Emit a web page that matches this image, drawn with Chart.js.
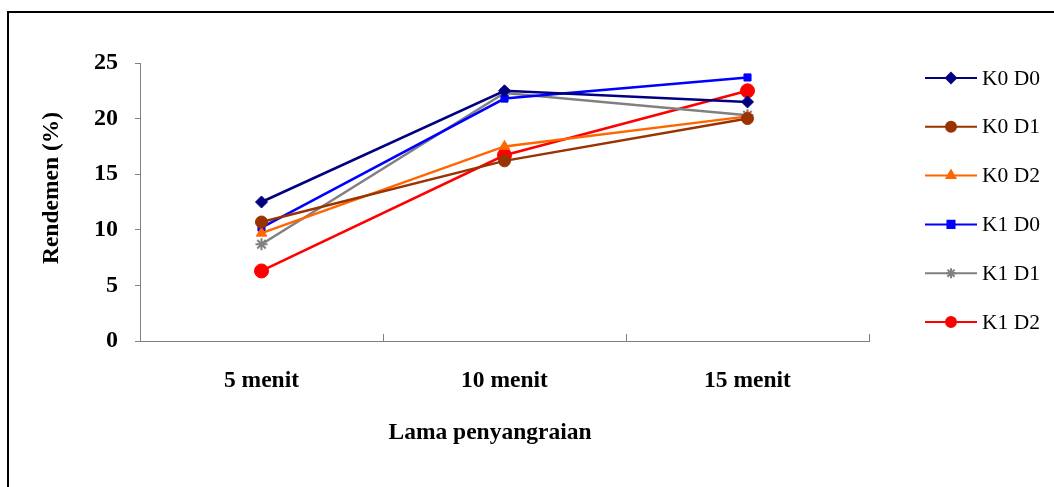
<!DOCTYPE html>
<html>
<head>
<meta charset="utf-8">
<script src="https://cdn.jsdelivr.net/npm/chart.js@4"></script>
<style>
  html, body { margin: 0; padding: 0; background: #fff; overflow: hidden; }
  #wrap { position: relative; width: 1054px; height: 487px; }
  #frame { position: absolute; left: 7px; top: 11px; width: 1100px; height: 520px; border: 2px solid #000; box-sizing: border-box; }
  #chart { position: absolute; left: 0; top: 0; }
</style>
</head>
<body>
<div id="wrap">
  <div id="frame"></div>
  <canvas id="chart" width="1054" height="487"></canvas>
</div>
<script>
// Data
const categories = ['5 menit', '10 menit', '15 menit'];
const seriesNames = ['K0 D0', 'K0 D1', 'K0 D2', 'K1 D0', 'K1 D1', 'K1 D2'];
const k0d0 = [12.5, 22.5, 21.5];
const k0d1 = [10.7, 16.2, 20.0];
const k0d2 = [9.7, 17.5, 20.2];
const k1d0 = [10.2, 21.8, 23.7];
const k1d1 = [8.7, 22.3, 20.3];
const k1d2 = [6.3, 16.7, 22.5];
const yTicks = [0, 5, 10, 15, 20, 25];

const colors = ['#000080', '#993300', '#FF6600', '#0000FF', '#808080', '#FF0000'];
const styles = ['rectRot', 'circle', 'triangle', 'rect', 'star', 'circle'];
const radii = [6, 6, 6, 5, 6, 7];
const values = [k0d0, k0d1, k0d2, k1d0, k1d1, k1d2];

const serif = "'Liberation Serif', 'Times New Roman', serif";

const datasets = seriesNames.map((name, i) => ({
  label: name,
  data: values[i],
  borderColor: colors[i],
  backgroundColor: colors[i],
  borderWidth: 2.5,
  pointStyle: styles[i],
  pointRadius: radii[i],
  pointHoverRadius: radii[i],
  pointBorderWidth: styles[i] === 'star' ? 2 : 1,
  pointBorderColor: colors[i],
  pointBackgroundColor: colors[i],
  tension: 0,
  fill: false,
}));

// Line + marker legend on the right
const sideLegend = {
  id: 'sideLegend',
  afterDraw(chart) {
    const ctx = chart.ctx;
    ctx.save();
    chart.data.datasets.forEach((ds, i) => {
      const y = 78 + i * 48.8;
      ctx.strokeStyle = ds.borderColor;
      ctx.lineWidth = 2;
      ctx.beginPath();
      ctx.moveTo(925, y);
      ctx.lineTo(977, y);
      ctx.stroke();
      ctx.fillStyle = ds.backgroundColor;
      ctx.strokeStyle = ds.borderColor;
      Chart.helpers.drawPoint(ctx, {
        pointStyle: ds.pointStyle,
        radius: 5,
        rotation: 0,
        borderWidth: ds.pointBorderWidth,
      }, 951, y);
      ctx.fillStyle = '#000';
      ctx.font = '21.5px ' + serif;
      ctx.textAlign = 'left';
      ctx.textBaseline = 'middle';
      ctx.fillText(ds.label, 982, y + 1);
    });
    ctx.restore();
  }
};

// Inward tick marks between categories + axis titles
const axisExtras = {
  id: 'axisExtras',
  afterDraw(chart) {
    const xs = chart.scales.x;
    const ctx = chart.ctx;
    const bottom = chart.chartArea.bottom;
    ctx.save();
    ctx.strokeStyle = '#808080';
    ctx.lineWidth = 1;
    for (let i = 0; i <= categories.length; i++) {
      let x;
      if (i === 0) x = xs.left;
      else if (i === categories.length) x = xs.right;
      else x = (xs.getPixelForValue(i - 1) + xs.getPixelForValue(i)) / 2;
      ctx.beginPath();
      ctx.moveTo(Math.round(x) + 0.5, bottom);
      ctx.lineTo(Math.round(x) + 0.5, bottom - 7);
      ctx.stroke();
    }
    ctx.fillStyle = '#000';
    ctx.font = 'bold 23.5px ' + serif;
    ctx.textAlign = 'center';
    ctx.textBaseline = 'middle';
    ctx.fillText('Lama penyangraian', 490, 433);
    ctx.translate(52, 188);
    ctx.rotate(-Math.PI / 2);
    ctx.fillText('Rendemen (%)', 0, 0);
    ctx.restore();
  }
};

new Chart(document.getElementById('chart'), {
  type: 'line',
  data: { labels: categories, datasets },
  options: {
    responsive: false,
    animation: false,
    layout: { padding: { left: 10, right: 185, top: 63, bottom: 0 } },
    plugins: {
      legend: { display: false },
      tooltip: { enabled: false },
    },
    scales: {
      x: {
        offset: true,
        afterFit(scale) { scale.height = 146; },
        grid: { display: false, drawTicks: false },
        border: { display: true, color: '#808080', width: 1 },
        ticks: {
          padding: 26,
          color: '#000',
          font: { family: serif, size: 23.5, weight: 'bold' },
        },
      },
      y: {
        min: 0,
        max: 25,
        afterFit(scale) { scale.width = 130; },
        afterBuildTicks(scale) { scale.ticks = yTicks.map(v => ({ value: v })); },
        grid: { drawOnChartArea: false, drawTicks: true, tickLength: 5, color: '#808080' },
        border: { display: true, color: '#808080', width: 1 },
        ticks: {
          padding: 17,
          color: '#000',
          font: { family: serif, size: 24, weight: 'bold' },
        },
      },
    },
  },
  plugins: [sideLegend, axisExtras],
});
</script>
</body>
</html>
